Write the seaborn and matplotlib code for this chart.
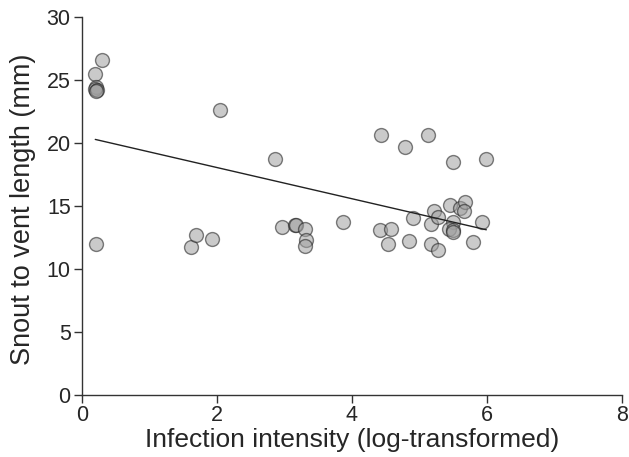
import seaborn as sns
import pandas as pd
from matplotlib import pyplot as plt

# infection intensity (log) vs snout-vent length (mm)
intensity = [0.20, 0.30, 0.21, 0.20, 0.22, 0.21, 0.21, 2.05, 1.62, 1.69, 1.93,
             2.86, 2.97, 3.16, 3.17, 3.31, 3.32, 3.31, 3.87, 4.41, 4.58, 4.53,
             4.43, 4.78, 5.12, 5.49, 5.99, 4.85, 4.91, 5.17, 5.27, 5.17, 5.22,
             5.28, 5.45, 5.60, 5.68, 5.66, 5.50, 5.44, 5.50, 5.50, 5.93, 5.79]
svl = [25.5, 26.6, 24.4, 24.3, 24.2, 24.1, 12.0, 22.6, 11.7, 12.7, 12.4,
       18.7, 13.3, 13.5, 13.45, 13.2, 12.3, 11.8, 13.7, 13.1, 13.2, 12.0,
       20.6, 19.7, 20.6, 18.5, 18.7, 12.2, 14.0, 12.0, 11.5, 13.6, 14.6,
       14.1, 15.1, 14.8, 15.3, 14.6, 13.7, 13.2, 13.05, 12.9, 13.7, 12.1]

df = pd.DataFrame({"intensity": intensity, "svl": svl})

sns.set_style("ticks")
plt.rcParams['font.family'] = ['Liberation Sans', 'DejaVu Sans']

fig = plt.figure(figsize=(6.29, 4.57), dpi=100)
ax = fig.add_axes([0.130, 0.136, 0.859, 0.827])

sns.regplot(x="intensity", y="svl", data=df, ci=None, ax=ax,
            scatter_kws={"s": 100, "color": "#a0a0a0", "alpha": 0.55,
                         "edgecolors": "#1a1a1a", "linewidths": 1.0},
            line_kws={"color": "#222222", "linewidth": 1.0})

ax.set_xlim(0, 8)
ax.set_ylim(0, 30)
ax.set_xticks([0, 2, 4, 6, 8])
ax.set_yticks([0, 5, 10, 15, 20, 25, 30])
ax.set_xlabel("Infection intensity (log-transformed)", fontsize=19, labelpad=2)
ax.set_ylabel("Snout to vent length (mm)", fontsize=19.5)
ax.yaxis.set_label_coords(-0.085, 0.49)
ax.tick_params(labelsize=15.5, length=6, width=1, color="#333333")
ax.tick_params(axis="y", pad=2)
ax.tick_params(axis="x", pad=1)
sns.despine(ax=ax)
for s in ["left", "bottom"]:
    ax.spines[s].set_color("#333333")
    ax.spines[s].set_linewidth(1)

plt.savefig("out.png", dpi=100)
